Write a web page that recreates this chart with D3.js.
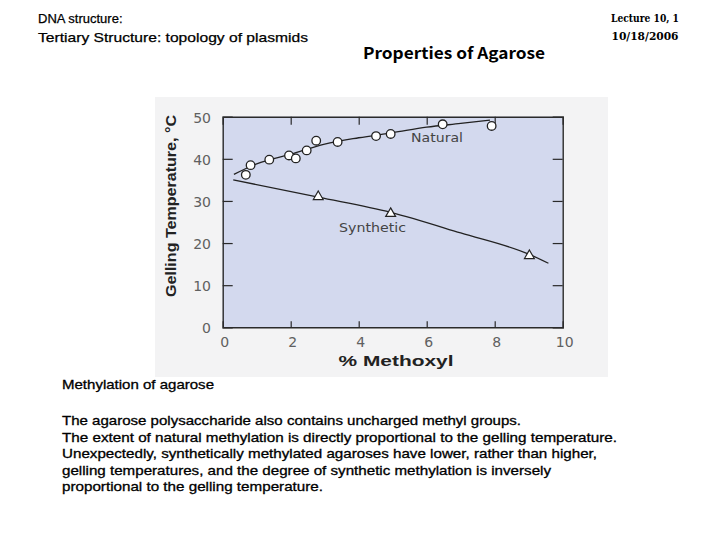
<!DOCTYPE html>
<html>
<head>
<meta charset="utf-8">
<script src="https://cdn.jsdelivr.net/npm/d3@7"></script>
<style>
  html, body { margin: 0; padding: 0; background: #ffffff; }
  svg { display: block; }
</style>
</head>
<body>
<svg id="chart" width="720" height="540"></svg>
<script>
// ---- data ----
const naturalX = [0.68, 0.82, 1.37, 1.95, 2.15, 2.47, 2.75, 3.38, 4.51, 4.94, 6.47, 7.91];
const naturalY = [36.2, 38.5, 39.8, 40.8, 40.1, 42.0, 44.3, 44.0, 45.4, 45.9, 48.2, 47.8];
const naturalFitX = [0.33, 1, 2, 3, 4, 5, 6, 7, 7.86];
const naturalFitY = [36.3, 38.8, 41.1, 43.5, 45.0, 46.2, 47.5, 48.4, 49.2];
const syntheticX = [2.81, 4.94, 9.02];
const syntheticY = [31.0, 27.0, 17.0];
const syntheticFitX = [0.31, 2.81, 4.94, 7.0, 9.02, 9.58];
const syntheticFitY = [35.0, 30.9, 27.3, 22.4, 17.3, 15.2];
const xTicks = [0, 2, 4, 6, 8, 10];
const yTicks = [0, 10, 20, 30, 40, 50];
const paragraph = [
  "The agarose polysaccharide also contains uncharged methyl groups.",
  "The extent of natural methylation is directly proportional to the gelling temperature.",
  "Unexpectedly, synthetically methylated agaroses have lower, rather than higher,",
  "gelling temperatures, and the degree of synthetic methylation is inversely",
  "proportional to the gelling temperature."
];

const svg = d3.select("#chart");

// header texts
svg.append("text").attr("x", 38).attr("y", 23).text("DNA structure:")
  .attr("font-family", "Liberation Sans, Arial, sans-serif").attr("font-size", 13).attr("fill", "#000")
  .attr("stroke", "#000").attr("stroke-width", 0.25);
svg.append("text").attr("x", 38).attr("y", 42).text("Tertiary  Structure: topology of plasmids")
  .attr("font-family", "Liberation Sans, Arial, sans-serif").attr("font-size", 13).attr("fill", "#000")
  .attr("stroke", "#000").attr("stroke-width", 0.25)
  .attr("textLength", 270).attr("lengthAdjust", "spacingAndGlyphs");
svg.append("text").attr("x", 454).attr("y", 59).attr("text-anchor", "middle").text("Properties of Agarose")
  .attr("font-family", "Noto Sans CJK JP, sans-serif").attr("font-size", 16).attr("font-weight", 700)
  .attr("textLength", 182).attr("lengthAdjust", "spacingAndGlyphs");
svg.append("text").attr("x", 645).attr("y", 22).attr("text-anchor", "middle").text("Lecture 10, 1")
  .attr("font-family", "DejaVu Serif, serif").attr("font-size", 11).attr("font-weight", "bold")
  .attr("textLength", 68).attr("lengthAdjust", "spacingAndGlyphs");
svg.append("text").attr("x", 645).attr("y", 40).attr("text-anchor", "middle").text("10/18/2006")
  .attr("font-family", "DejaVu Serif, serif").attr("font-size", 11).attr("font-weight", "bold")
  .attr("textLength", 67).attr("lengthAdjust", "spacingAndGlyphs");

// scanned figure background
svg.append("rect").attr("x", 155).attr("y", 97).attr("width", 453).attr("height", 280).attr("fill", "#f3f3f4");

// plot geometry
const x = d3.scaleLinear().domain([0, 10]).range([222.7, 562.7]);
const y = d3.scaleLinear().domain([0, 50]).range([327.3, 116.7]);

svg.append("rect").attr("x", x(0)).attr("y", y(50)).attr("width", x(10) - x(0)).attr("height", y(0) - y(50))
  .attr("fill", "#d3d9ee");

const frameColor = "#2a2a2a";
// axes with inward ticks
const inner = xTicks.filter(d => d > 0 && d < 10);
const innerY = yTicks.filter(d => d > 0 && d < 50);
const gBottom = svg.append("g").attr("transform", `translate(0,${y(0)})`)
  .call(d3.axisTop(x).tickValues(inner).tickSize(6).tickFormat(""));
const gTop = svg.append("g").attr("transform", `translate(0,${y(50)})`)
  .call(d3.axisBottom(x).tickValues(inner).tickSize(8).tickFormat(""));
const gLeft = svg.append("g").attr("transform", `translate(${x(0)},0)`)
  .call(d3.axisRight(y).tickValues(innerY).tickSize(10).tickFormat(""));
const gRight = svg.append("g").attr("transform", `translate(${x(10)},0)`)
  .call(d3.axisLeft(y).tickValues(innerY).tickSize(10).tickFormat(""));
[gBottom, gTop, gLeft, gRight].forEach(g => {
  g.select(".domain").attr("stroke", frameColor).attr("stroke-width", 1.4);
  g.selectAll(".tick line").attr("stroke", frameColor).attr("stroke-width", 1.2);
});

// tick labels
svg.append("g").selectAll("text").data(xTicks).join("text")
  .attr("x", d => x(d) + 2).attr("y", 347).attr("text-anchor", "middle")
  .attr("font-family", "DejaVu Sans, sans-serif").attr("font-size", 14).attr("fill", "#606060")
  .text(d => d);
svg.append("g").selectAll("text").data(yTicks).join("text")
  .attr("x", 211).attr("y", d => y(d) + 6).attr("text-anchor", "end")
  .attr("font-family", "DejaVu Sans, sans-serif").attr("font-size", 14).attr("fill", "#606060")
  .text(d => d);

// axis titles
svg.append("text").attr("x", 396).attr("y", 366).attr("text-anchor", "middle").text("% Methoxyl")
  .attr("font-family", "Liberation Sans, Arial, sans-serif").attr("font-size", 15).attr("font-weight", "bold")
  .attr("fill", "#222").attr("textLength", 115).attr("lengthAdjust", "spacingAndGlyphs");
svg.append("text").attr("transform", "translate(176,206) rotate(-90)").attr("text-anchor", "middle")
  .text("Gelling Temperature, °C")
  .attr("font-family", "Liberation Sans, Arial, sans-serif").attr("font-size", 15).attr("font-weight", "bold")
  .attr("fill", "#222").attr("textLength", 182).attr("lengthAdjust", "spacingAndGlyphs");

// fitted lines
const line = d3.line().x(d => x(d[0])).y(d => y(d[1])).curve(d3.curveMonotoneX);
svg.append("path").datum(naturalFitX.map((v, i) => [v, naturalFitY[i]])).attr("d", line)
  .attr("fill", "none").attr("stroke", "#222").attr("stroke-width", 1.3);
svg.append("path").datum(syntheticFitX.map((v, i) => [v, syntheticFitY[i]])).attr("d", line)
  .attr("fill", "none").attr("stroke", "#222").attr("stroke-width", 1.3);

// markers
svg.append("g").selectAll("circle").data(naturalX.map((v, i) => [v, naturalY[i]])).join("circle")
  .attr("cx", d => x(d[0])).attr("cy", d => y(d[1])).attr("r", 4.3)
  .attr("fill", "#ffffff").attr("stroke", "#222").attr("stroke-width", 1.3);
const tri = d3.symbol().type(d3.symbolTriangle).size(42);
svg.append("g").selectAll("path").data(syntheticX.map((v, i) => [v, syntheticY[i]])).join("path")
  .attr("transform", d => `translate(${x(d[0])},${y(d[1])})`).attr("d", tri)
  .attr("fill", "#ffffff").attr("stroke", "#222").attr("stroke-width", 1.2);

// series labels
svg.append("text").attr("x", 411).attr("y", 142).text("Natural")
  .attr("font-family", "DejaVu Sans, sans-serif").attr("font-size", 11.5).attr("fill", "#444")
  .attr("textLength", 52).attr("lengthAdjust", "spacingAndGlyphs");
svg.append("text").attr("x", 339).attr("y", 232).text("Synthetic")
  .attr("font-family", "DejaVu Sans, sans-serif").attr("font-size", 11.5).attr("fill", "#444")
  .attr("textLength", 67).attr("lengthAdjust", "spacingAndGlyphs");

// body text
svg.append("text").attr("x", 62).attr("y", 389).text("Methylation of agarose")
  .attr("font-family", "Liberation Sans, Arial, sans-serif").attr("font-size", 13).attr("fill", "#000")
  .attr("stroke", "#000").attr("stroke-width", 0.3)
  .attr("textLength", 152).attr("lengthAdjust", "spacingAndGlyphs");
const lineEnds = [521, 617, 597, 551, 323];
svg.append("g").selectAll("text").data(paragraph).join("text")
  .attr("x", 62).attr("y", (d, i) => 425 + i * 16.5).text(d => d)
  .attr("font-family", "Liberation Sans, Arial, sans-serif").attr("font-size", 13).attr("fill", "#000")
  .attr("stroke", "#000").attr("stroke-width", 0.3)
  .attr("textLength", (d, i) => lineEnds[i] - 62).attr("lengthAdjust", "spacingAndGlyphs");
</script>
</body>
</html>
